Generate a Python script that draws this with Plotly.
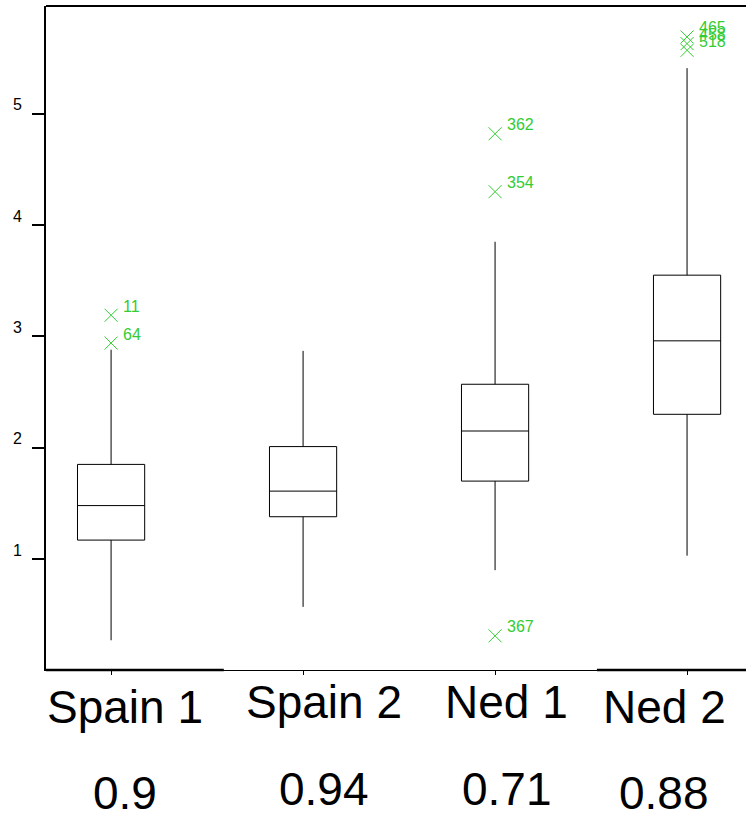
import plotly.graph_objects as go

# ---- data ----
categories = ["Spain 1", "Spain 2", "Ned 1", "Ned 2"]
scores = ["0.9", "0.94", "0.71", "0.88"]
lower_whisker = [0.27, 0.57, 0.90, 1.03]
q1 = [1.17, 1.38, 1.70, 2.30]
median = [1.48, 1.61, 2.15, 2.96]
q3 = [1.85, 2.01, 2.57, 3.55]
upper_whisker = [2.88, 2.87, 3.85, 5.41]

outlier_group = [0, 0, 2, 2, 2, 3, 3, 3]
outlier_value = [3.19, 2.94, 4.82, 4.30, 0.31, 5.69, 5.63, 5.57]
outlier_label = ["11", "64", "362", "354", "367", "465", "458", "518"]

# ---- style / layout constants ----
GREEN = "#33CC33"
FONT = "Liberation Sans, Arial, sans-serif"
label_x_offset = [0.07, 0.11, 0.06, -0.12]
label_y_px = [707, 702, 702, 707]
score_y_px = [793, 789, 789, 793]
PLOT_TOP, PLOT_BOTTOM = 6, 670
H = 814

x_pos = list(range(len(categories)))

fig = go.Figure()
fig.add_trace(go.Box(
    x=x_pos, q1=q1, median=median, q3=q3,
    lowerfence=lower_whisker, upperfence=upper_whisker,
    boxpoints=False, width=0.35, whiskerwidth=0,
    fillcolor="white", line=dict(color="black", width=1),
    hoverinfo="skip", showlegend=False,
))
fig.add_trace(go.Scatter(
    x=outlier_group, y=outlier_value, mode="markers",
    marker=dict(symbol="x-thin-open", size=13, color=GREEN,
                line=dict(color=GREEN, width=1)),
    hoverinfo="skip", showlegend=False,
))

annotations = []
for g, v, t in zip(outlier_group, outlier_value, outlier_label):
    annotations.append(dict(
        x=g, y=v, xref="x", yref="y", text=t, showarrow=False,
        xanchor="left", yanchor="middle", xshift=10, yshift=9,
        font=dict(family=FONT, size=16, color=GREEN),
    ))

ph = PLOT_BOTTOM - PLOT_TOP
for i, (c, s) in enumerate(zip(categories, scores)):
    annotations.append(dict(
        x=i + label_x_offset[i], y=(PLOT_BOTTOM - label_y_px[i]) / ph,
        xref="x", yref="paper", text=c, showarrow=False,
        xanchor="center", yanchor="middle",
        font=dict(family=FONT, size=46, color="black"),
    ))
    annotations.append(dict(
        x=i + label_x_offset[i], y=(PLOT_BOTTOM - score_y_px[i]) / ph,
        xref="x", yref="paper", text=s, showarrow=False,
        xanchor="center", yanchor="middle",
        font=dict(family=FONT, size=46, color="black"),
    ))

shapes = [
    dict(type="line", xref="paper", yref="paper", x0=0, x1=1, y0=1, y1=1,
         line=dict(color="black", width=2)),
    dict(type="line", xref="paper", yref="paper", x0=0, x1=0.254, y0=0, y1=0,
         line=dict(color="black", width=2.5)),
    dict(type="line", xref="paper", yref="paper", x0=0.787, x1=1, y0=0, y1=0,
         line=dict(color="black", width=2.5)),
]

fig.update_layout(
    width=746, height=H,
    margin=dict(l=46, r=0, t=PLOT_TOP, b=H - PLOT_BOTTOM, pad=0),
    plot_bgcolor="white", paper_bgcolor="white",
    annotations=annotations, shapes=shapes,
    font=dict(family=FONT, color="black"),
    xaxis=dict(
        range=[-0.339, 3.307], tickvals=x_pos, showticklabels=False,
        ticks="outside", ticklen=4, tickwidth=1, tickcolor="black",
        showline=True, linewidth=1, linecolor="black",
        showgrid=False, zeroline=False, fixedrange=True, automargin=False,
    ),
    yaxis=dict(
        range=[0.003, 5.968], tickvals=[1, 2, 3, 4, 5],
        ticks="outside", ticklen=12, tickwidth=2, tickcolor="black",
        showline=True, linewidth=2, linecolor="black",
        showgrid=False, zeroline=False, fixedrange=True, automargin=False,
        tickfont=dict(family=FONT, size=16, color="black"),
        ticklabelstandoff=7, ticklabelshift=-9,
    ),
)

fig.write_html(
    "out.html",
    config={"displayModeBar": False},
    post_script="document.body.style.margin='0';document.body.style.overflow='hidden';",
)
